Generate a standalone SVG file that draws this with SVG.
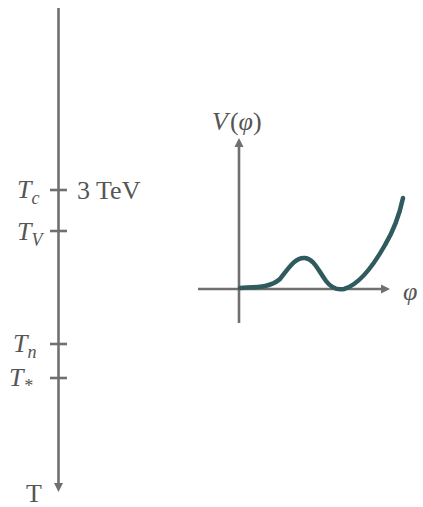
<svg xmlns="http://www.w3.org/2000/svg" width="423" height="507" viewBox="0 0 423 507">
<style>
.ax{stroke:#707070;stroke-width:2.6;fill:none}
.lbl{font-family:"Liberation Serif","DejaVu Serif",serif;fill:#555;font-size:26px}
.it{font-style:italic}
.sub{font-size:18px}
</style>
<defs>
<marker id="ah" markerWidth="12" markerHeight="12" refX="6" refY="5.5" orient="auto" markerUnits="userSpaceOnUse">
<path d="M0,1 L9,5.5 L0,10 z" fill="#707070"/>
</marker>
</defs>
<g id="timeline">
<line class="ax" x1="58.5" y1="8" x2="58.5" y2="489" marker-end="url(#ah)"/>
<line class="ax" x1="50" y1="190" x2="67" y2="190"/>
<line class="ax" x1="50" y1="231" x2="67" y2="231"/>
<line class="ax" x1="50" y1="344" x2="67" y2="344"/>
<line class="ax" x1="50" y1="378" x2="67" y2="378"/>
</g>
<g id="labels">
<text class="lbl it" x="17" y="198">T<tspan class="sub" dy="6">c</tspan></text>
<text class="lbl" x="77" y="199">3 TeV</text>
<text class="lbl it" x="17" y="240">T<tspan class="sub" dy="6">V</tspan></text>
<text class="lbl it" x="13" y="352">T<tspan class="sub" dy="6">n</tspan></text>
<text class="lbl it" x="9" y="386">T<tspan class="sub" dy="6">*</tspan></text>
<text class="lbl" x="26" y="502">T</text>
</g>
<g id="plot">
<line class="ax" x1="239" y1="323" x2="239" y2="141" marker-end="url(#ah)"/>
<line class="ax" x1="198" y1="289" x2="387" y2="289" marker-end="url(#ah)"/>
<text class="lbl it" x="212" y="130">V<tspan font-style="normal" dx="2">(</tspan>φ<tspan font-style="normal">)</tspan></text>
<text class="lbl it" x="403" y="300">φ</text>
<path d="M240,288 C255,287 270,288 280,279 C290,266 296,257 305,258 C314,259 318,270 326,281 C332,289 338,290 344,289 C358,285 372,268 385,245 C394,230 400,212 403,198" fill="none" stroke="#2f5a5e" stroke-width="4.5" stroke-linecap="round"/>
</g>
</svg>
